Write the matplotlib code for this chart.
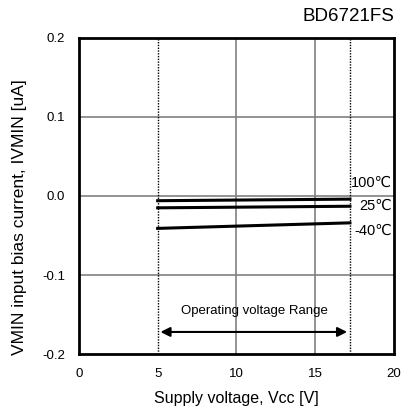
import matplotlib
matplotlib.use("Agg")
import matplotlib.pyplot as plt

plt.rcParams['font.family'] = ['Liberation Sans', 'DejaVu Sans']

vcc = [5, 17.2]
i_100 = [-0.006, -0.004]
i_25 = [-0.015, -0.013]
i_m40 = [-0.041, -0.034]
labels = ["100\u2103", "25\u2103", "-40\u2103"]
label_y = [0.016, -0.012, -0.044]

fig = plt.figure(figsize=(4.13, 4.07), dpi=100)
ax = fig.add_axes([0.191, 0.130, 0.763, 0.777])

for v in [10, 15]:
    ax.axvline(v, color='#808080', lw=1.2)
for v in [0.1, 0.0, -0.1]:
    ax.axhline(v, color='#808080', lw=1.2)
for v in vcc:
    ax.axvline(v, color='black', lw=1.0, ls=(0, (1, 1)))

for ys in [i_100, i_25, i_m40]:
    ax.plot(vcc, ys, color='black', lw=2.2)

for lab, y in zip(labels, label_y):
    ax.text(19.85, y, lab, fontsize=10.5, va='center', ha='right')

ax.annotate('', xy=(5, -0.172), xytext=(17.2, -0.172),
            arrowprops=dict(arrowstyle='<|-|>', color='black', lw=1.5,
                            mutation_scale=14))
ax.text(11.14, -0.1456, "Operating voltage Range", fontsize=9.5, ha='center', va='center')

ax.set_xlim(0, 20)
ax.set_ylim(-0.2, 0.2)
ax.set_xticks([0, 5, 10, 15, 20])
ax.set_yticks([-0.2, -0.1, 0.0, 0.1, 0.2])
ax.set_yticklabels(["-0.2", "-0.1", "0.0", "0.1", "0.2"])
ax.tick_params(length=0, labelsize=9.5, pad=10)
for s in ax.spines.values():
    s.set_linewidth(2)

ax.set_xlabel("Supply voltage, Vcc [V]", fontsize=11.5, labelpad=8)
ax.set_ylabel("VMIN input bias current, IVMIN [uA]", fontsize=12.5)
ax.yaxis.set_label_coords(-0.165, 0.434)
ax.set_title("BD6721FS", loc='right', fontsize=13.5, pad=12)

fig.savefig("out.png", dpi=100)
